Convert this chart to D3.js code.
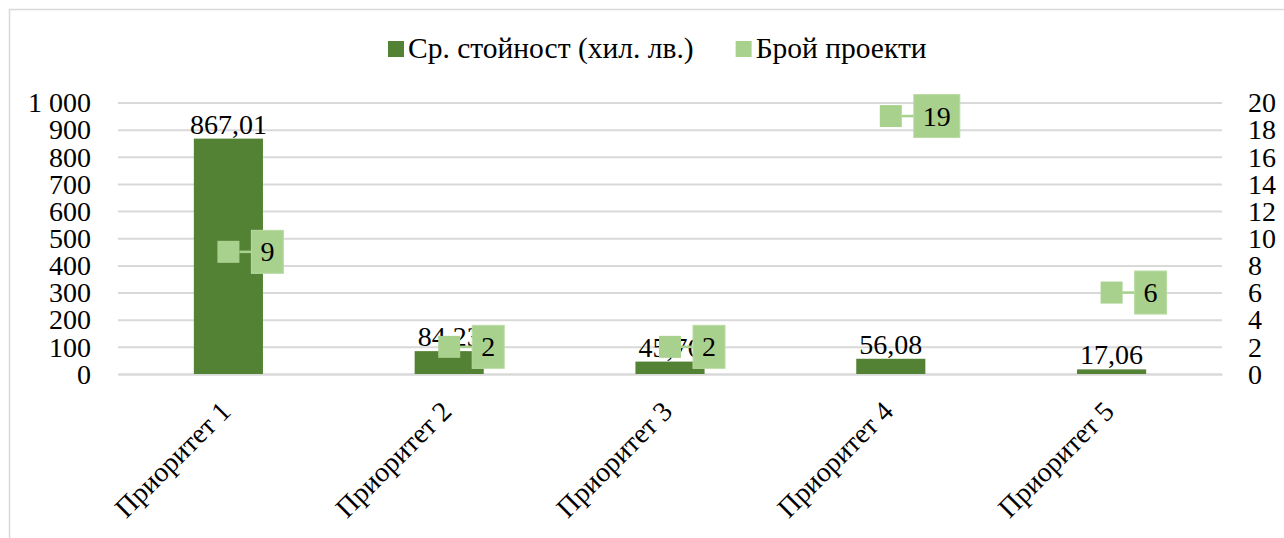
<!DOCTYPE html>
<html><head><meta charset="utf-8">
<script src="https://cdn.jsdelivr.net/npm/d3@7"></script>
<style>
html,body{margin:0;padding:0;background:#fff;}
svg{display:block;}
text{font-family:"Liberation Serif","Times New Roman",serif;fill:#000;}
</style></head>
<body>
<script>
const categories = ["Приоритет 1","Приоритет 2","Приоритет 3","Приоритет 4","Приоритет 5"];
const avgValue = [867.01, 84.23, 45.76, 56.08, 17.06];
const projectCount = [9, 2, 2, 19, 6];
const seriesNames = ["Ср. стойност (хил. лв.)", "Брой проекти"];
const leftTicks = [0,100,200,300,400,500,600,700,800,900,1000];
const rightTicks = [0,2,4,6,8,10,12,14,16,18,20];

const W = 1284, H = 538;
const dark = "#548235", light = "#A9D18E", grid = "#D9D9D9";
const fs = 28;

const loc = d3.formatLocale({decimal:",", thousands:"\u00a0", grouping:[3], currency:["",""]});
const fmtTick = loc.format(",d");
const fmtVal = loc.format(",.2f");

const svg = d3.select("body").append("svg").attr("width", W).attr("height", H);

// chart frame
svg.append("path").attr("d", `M9.5,${H} L9.5,9.5 L${W},9.5`).attr("fill","none").attr("stroke",grid).attr("stroke-width",1.5);

const x = d3.scaleBand().domain(categories).range([118, 1222]).padding(0);
const yL = d3.scaleLinear().domain([0,1000]).range([374, 102.5]);
const yR = d3.scaleLinear().domain([0,20]).range([374, 102.5]);

// gridlines + left axis
const gAxL = svg.append("g").attr("transform","translate(118,0)")
  .call(d3.axisLeft(yL).tickValues(leftTicks).tickSize(-(1222-118)).tickFormat(fmtTick));
gAxL.select(".domain").remove();
gAxL.selectAll(".tick line").attr("stroke", grid).attr("stroke-width",2);
gAxL.selectAll(".tick text").attr("x", -27).attr("dy","0.33em")
  .style("font-size", fs+"px").attr("font-family", null);

// right axis
const gAxR = svg.append("g").attr("transform","translate(1222,0)")
  .call(d3.axisRight(yR).tickValues(rightTicks).tickSize(0).tickFormat(d => String(d)));
gAxR.select(".domain").remove();
gAxR.selectAll(".tick text").attr("x", 26).attr("dy","0.33em")
  .attr("text-anchor","start").style("font-size", fs+"px").attr("font-family", null);

// x axis labels
const gX = svg.append("g").attr("transform","translate(0,374)")
  .call(d3.axisBottom(x).tickSize(0).tickFormat(d => d));
gX.select(".domain").attr("stroke", grid).attr("stroke-width",2);
gX.selectAll(".tick text")
  .attr("font-family", null).style("font-size", fs+"px")
  .attr("text-anchor","end").attr("dy", null).attr("y", 0)
  .attr("transform","translate(4,39) rotate(-45)");

// bars
const bw = x.bandwidth()*0.313;
const bars = svg.append("g");
categories.forEach((c,i) => {
  const cx = x(c) + x.bandwidth()/2;
  bars.append("rect").attr("x", cx - bw/2).attr("y", yL(avgValue[i]))
    .attr("width", bw).attr("height", yL(0) - yL(avgValue[i])).attr("fill", dark);
});
// bar labels
categories.forEach((c,i) => {
  const cx = x(c) + x.bandwidth()/2;
  svg.append("text").attr("x", cx).attr("y", yL(avgValue[i]) - 5)
    .attr("text-anchor","middle").style("font-size", fs+"px").text(fmtVal(avgValue[i]));
});

// markers + labels for project count
const ms = 22;
categories.forEach((c,i) => {
  const cx = x(c) + x.bandwidth()/2;
  const cy = yR(projectCount[i]);
  const g = svg.append("g");
  const t = g.append("text").attr("text-anchor","middle").style("font-size", fs+"px")
    .text(String(projectCount[i]));
  const tw = t.node().getComputedTextLength();
  const bwid = tw + 18, bh = 43;
  const bx = cx + ms/2 + 12;
  g.insert("line","text").attr("x1", cx + ms/2).attr("x2", bx).attr("y1", cy).attr("y2", cy)
    .attr("stroke", light).attr("stroke-width", 2.5);
  g.insert("rect","text").attr("x", bx).attr("y", cy - bh/2).attr("width", bwid).attr("height", bh)
    .attr("fill", light).attr("stroke","#b9dba2").attr("stroke-width",1);
  t.attr("x", bx + bwid/2).attr("y", cy).attr("dy","0.34em");
  g.insert("rect",":first-child").attr("x", cx - ms/2).attr("y", cy - ms/2).attr("width", ms).attr("height", ms)
    .attr("fill", light);
});

// legend
const leg = svg.append("g");
const lfs = 29.5;
let lx = 388;
[dark, light].forEach((col, i) => {
  leg.append("rect").attr("x", lx).attr("y", 41).attr("width", 16).attr("height", 16).attr("fill", col);
  const t = leg.append("text").attr("x", lx + 20).attr("y", 58).style("font-size", lfs+"px").text(seriesNames[i]);
  lx = lx + 20 + t.node().getComputedTextLength() + 42;
});
</script>
</body></html>
